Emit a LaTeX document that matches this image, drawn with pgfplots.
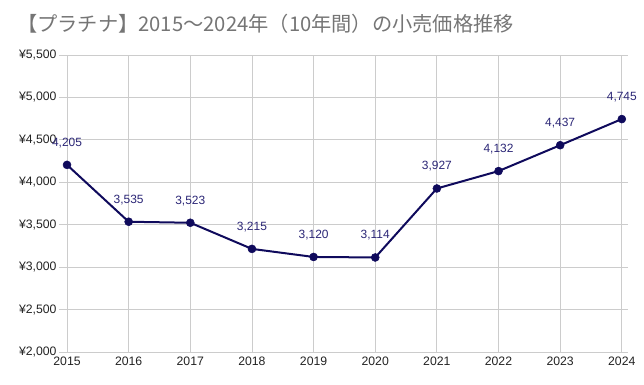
\documentclass[border=0pt]{standalone}
\usepackage{pgfplots}
\pgfplotsset{compat=1.18}
\usepackage{fontspec}
\setmainfont{Liberation Sans}
\newfontfamily\cjk{Noto Sans CJK JP}
\definecolor{navy}{HTML}{0F0A5C}
\definecolor{lbl}{HTML}{2B2676}
\definecolor{gridc}{HTML}{CCCCCC}
\definecolor{titlec}{HTML}{757575}
\definecolor{tickc}{HTML}{222222}
\begin{document}
\begin{tikzpicture}
\useasboundingbox (0,0) rectangle (644bp,385bp);
\node[anchor=west, inner sep=0pt, text=titlec] at (17bp,361bp) {\cjk\fontsize{20.3}{23}\selectfont 【プラチナ】2015〜2024年（10年間）の小売価格推移};
\begin{axis}[
  at={(59bp,33bp)}, anchor=south west,
  scale only axis, width=569bp, height=297bp,
  xmin=2014.87, xmax=2024.1,
  ymin=2000, ymax=5500,
  xtick={2015,...,2024},
  ytick={2000,2500,...,5500},
  yticklabels={{¥2,000},{¥2,500},{¥3,000},{¥3,500},{¥4,000},{¥4,500},{¥5,000},{¥5,500}},
  /pgf/number format/assume math mode=true,
  /pgf/number format/1000 sep={},
  xmajorgrids, ymajorgrids,
  grid style={gridc, line width=0.8bp},
  axis line style={draw=none},
  major tick length=0pt,
  tick label style={font=\fontsize{12.3}{14}\selectfont, text=tickc},
  yticklabel style={xshift=1bp},
  xticklabel style={yshift=-1bp},
  clip=false,
  point meta=y,
  nodes near coords={\pgfmathprintnumber[fixed,precision=0,1000 sep={,},assume math mode=true]{\pgfplotspointmeta}},
  every node near coord/.append style={font=\fontsize{12}{14}\selectfont, text=lbl, anchor=center, yshift=22bp, inner sep=0pt},
]
\addplot[navy, line width=2bp, mark=*, mark size=4bp, mark options={fill=navy, draw=navy, line width=0.5bp}] coordinates {
(2015,4205) (2016,3535) (2017,3523) (2018,3215) (2019,3120)
(2020,3114) (2021,3927) (2022,4132) (2023,4437) (2024,4745)
};
\end{axis}
\end{tikzpicture}
\end{document}
